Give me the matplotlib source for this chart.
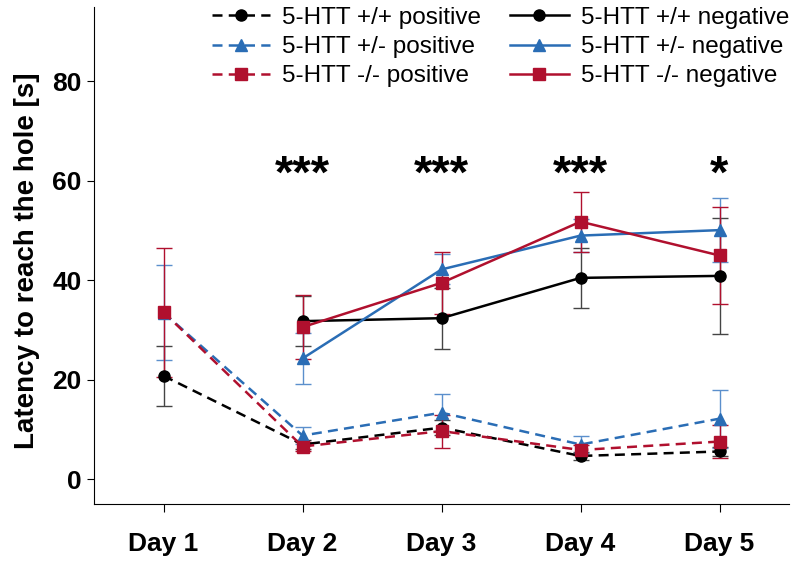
import numpy as np
import matplotlib
matplotlib.use('Agg')
import matplotlib.pyplot as plt

plt.rcParams['font.family'] = ['Liberation Sans', 'DejaVu Sans']

# data (mean and error per day)
days = ['Day 1', 'Day 2', 'Day 3', 'Day 4', 'Day 5']

wt_pos = [20.8, 7.0, 10.4, 4.7, 5.6]
wt_pos_err = [6.0, 1.0, 1.5, 0.8, 0.9]
het_pos = [33.5, 8.8, 13.4, 7.0, 12.2]
het_pos_err = [9.5, 1.7, 3.7, 1.7, 5.8]
ko_pos = [33.6, 6.6, 9.7, 5.9, 7.6]
ko_pos_err = [13.0, 1.0, 3.3, 1.0, 3.3]

wt_neg = [31.8, 32.4, 40.5, 40.9]
wt_neg_err = [5.0, 6.1, 6.0, 11.7]
het_neg = [24.3, 42.2, 49.0, 50.1]
het_neg_err = [5.2, 3.0, 3.3, 6.5]
ko_neg = [30.6, 39.5, 51.8, 45.0]
ko_neg_err = [6.4, 6.2, 6.0, 9.7]

stars = ['', '***', '***', '***', '*']

black = '#000000'
blue = '#2a6db5'
red = '#b0102e'

fig = plt.figure(figsize=(7.97, 5.64), dpi=100)
ax = fig.add_axes([0.118, 0.106, 0.872, 0.882])

x_all = np.arange(1, 6)
x_neg = np.arange(2, 6)

series = [
    (x_all, wt_pos, wt_pos_err, black, '#444444', 'o', '--', '5-HTT +/+ positive'),
    (x_all, het_pos, het_pos_err, blue, '#5b8fcc', '^', '--', '5-HTT +/- positive'),
    (x_all, ko_pos, ko_pos_err, red, red, 's', '--', '5-HTT -/- positive'),
    (x_neg, wt_neg, wt_neg_err, black, '#444444', 'o', '-', '5-HTT +/+ negative'),
    (x_neg, het_neg, het_neg_err, blue, '#5b8fcc', '^', '-', '5-HTT +/- negative'),
    (x_neg, ko_neg, ko_neg_err, red, red, 's', '-', '5-HTT -/- negative'),
]

handles = []
labels = []
for x, y, e, c, ec, m, ls, lab in series:
    h = ax.errorbar(x, y, yerr=e, color=c, ecolor=ec, elinewidth=1.0, capsize=6,
                    capthick=1.0, marker=m, markersize=8, linestyle=ls,
                    linewidth=1.8)
    if ls == '--':
        h[0].set_dashes([4, 2.5])
    handles.append(h[0])
    labels.append(lab)

for i, s in enumerate(stars):
    if s:
        ax.text(x_all[i], 61, s, ha='center', va='center', fontsize=34,
                fontweight='bold')

ax.set_xlim(0.5, 5.5)
ax.set_ylim(-5, 95)
ax.set_xticks(x_all)
ax.set_xticklabels(days, fontsize=19, fontweight='bold')
ax.set_yticks([0, 20, 40, 60, 80])
ax.set_yticklabels(['0', '20', '40', '60', '80'], fontsize=19, fontweight='bold')
ax.tick_params(axis='x', length=6, pad=14)
ax.tick_params(axis='y', length=5, pad=4)
ax.set_ylabel('Latency to reach the hole [s]', fontsize=20, fontweight='bold')
ax.yaxis.set_label_coords(-0.078, 0.49)
ax.spines['top'].set_visible(False)
ax.spines['right'].set_visible(False)

ax.legend(handles, labels, ncol=2, loc='upper right', bbox_to_anchor=(1.0, 1.0),
          frameon=False, fontsize=17.5, handlelength=2.4, columnspacing=1.2,
          labelspacing=0.3, handletextpad=0.5, borderpad=0, borderaxespad=0)

fig.savefig('out.png', dpi=100)
